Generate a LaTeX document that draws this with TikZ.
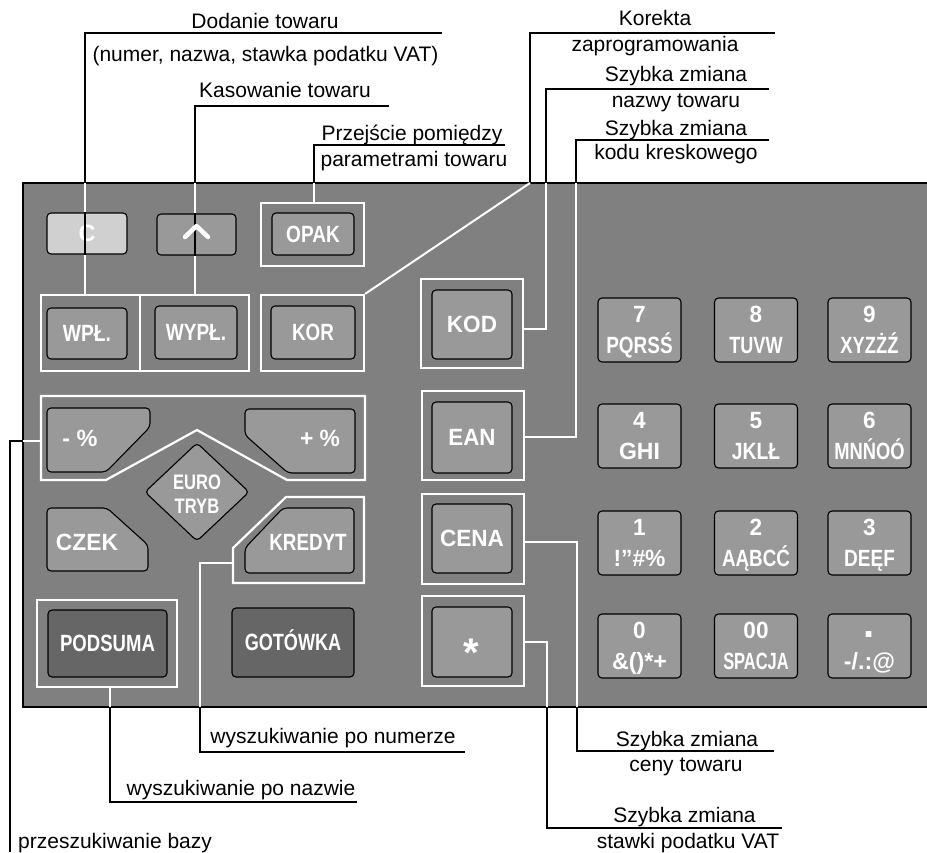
\documentclass[tikz,border=0pt]{standalone}
\usepackage{fontspec}
\usepackage{graphicx}
\setmainfont{Liberation Sans}
\definecolor{panel}{HTML}{808080}
\definecolor{keyg}{HTML}{999999}
\definecolor{keyl}{HTML}{D0D0D0}
\definecolor{keyd}{HTML}{666666}
\newcommand\sx[2]{\scalebox{#1}[1]{#2}}
\newcommand\numkey[6]{%
  \node[key, minimum width=83pt, minimum height=64pt] (#1) at (#2,#3+32) {};
  \node[ktxt, anchor=base] (#1a) at (#2,#3+24) {\sx{0.96}{#4}};
  \node[ktxt, anchor=base] (#1b) at (#2,#3+55) {\sx{#6}{#5}};}
\begin{document}
\begin{tikzpicture}[x=1pt,y=-1pt,
  lbl/.style={font=\fontsize{21}{24}\selectfont, inner sep=0pt},
  key/.style={draw=black, line width=1.1pt, fill=keyg, rounded corners=4pt, inner sep=0pt, text=white, font=\fontsize{23.5}{24}\selectfont\bfseries, text height=16.8pt, text depth=0pt},
  ktxt/.style={text=white, font=\fontsize{23.5}{24}\selectfont\bfseries, inner sep=0pt},
  frm/.style={draw=white, line width=2.2pt, inner sep=0pt},
  bl/.style={draw=black, line width=2pt},
  wl/.style={draw=white, line width=2pt},
]
\useasboundingbox (0,0) rectangle (927,852);
\path[draw=black, line width=1.5pt, fill=panel] (23,183) rectangle (940,707);

% coordinates of leaders
\coordinate (dA) at (85,33); \coordinate (dB) at (442,33); \coordinate (dP) at (85,183);
\coordinate (kA) at (195,106); \coordinate (kB) at (389,106); \coordinate (kP) at (195,183);
\coordinate (pA) at (314,145); \coordinate (pB) at (505,145); \coordinate (pP) at (314,183);
\coordinate (koA) at (530,33); \coordinate (koB) at (775,33); \coordinate (koP) at (530,183);
\coordinate (nA) at (546,89); \coordinate (nB) at (769,89); \coordinate (nP) at (546,183); \coordinate (nQ) at (546,329);
\coordinate (eA) at (576,140); \coordinate (eB) at (769,140); \coordinate (eP) at (576,183); \coordinate (eQ) at (576,437);
\coordinate (pctL) at (41,441); \coordinate (bQ) at (23,441); \coordinate (bR) at (10,441); \coordinate (bS) at (10,852);
\coordinate (zP) at (110,707); \coordinate (zA) at (110,802); \coordinate (zB) at (357,802);
\coordinate (uK) at (233,563); \coordinate (uC) at (200,563); \coordinate (uP) at (200,707); \coordinate (uA) at (200,752); \coordinate (uB) at (465,752);
\coordinate (cC) at (577,542); \coordinate (cP) at (577,707); \coordinate (cA) at (577,751); \coordinate (cB) at (774,751);
\coordinate (sC) at (547,642); \coordinate (sP) at (547,707); \coordinate (sA) at (547,828); \coordinate (sB) at (782,828);

% frames
\node[frm, minimum width=103pt, minimum height=63pt] (opakf) at (312.5,234.5) {};
\node[frm, minimum width=208pt, minimum height=76pt] (wplf) at (145,333) {};
\coordinate (wd1) at (140,295); \coordinate (wd2) at (140,371);
\draw[frm] (wd1) -- (wd2);
\node[frm, minimum width=103pt, minimum height=76pt] (korf) at (312.5,333) {};
\node[frm, minimum width=102pt, minimum height=89pt] (kodf) at (472,323.5) {};
\node[frm, minimum width=102pt, minimum height=89pt] (eanf) at (473,435.5) {};
\node[frm, minimum width=102pt, minimum height=90pt] (cenaf) at (473,539) {};
\node[frm, minimum width=102pt, minimum height=90pt] (starf) at (473,641) {};
\node[frm, minimum width=140pt, minimum height=87pt] (podsf) at (107,643.5) {};
\draw[frm] (41,396) -- (365,396) -- (365,480) -- (287,480) -- (197,430) -- (106,480) -- (41,480) -- cycle;
\draw[frm] (286,497) -- (364,497) -- (364,583) -- (233,583) -- (233,548) -- cycle;

% leaders
\draw[bl] (dB) -- (dA) -- (dP);  \draw[wl] (dP) -- (dP |- wplf.north);
\draw[bl] (kB) -- (kA) -- (kP);  \draw[wl] (kP) -- (kP |- wplf.north);
\draw[bl] (pB) -- (pA) -- (pP);  \draw[wl] (pP) -- (pP |- opakf.north);
\draw[bl] (koB) -- (koA) -- (koP); \draw[wl] (koP) -- (korf.north east);
\draw[bl] (nB) -- (nA) -- (nP);  \draw[wl] (nP) -- (nQ) -- (nQ -| kodf.east);
\draw[bl] (eB) -- (eA) -- (eP);  \draw[wl] (eP) -- (eQ) -- (eQ -| eanf.east);
\draw[wl] (pctL) -- (bQ); \draw[bl] (bQ) -- (bR) -- (bS);
\draw[wl] (podsf.south -| zP) -- (zP); \draw[bl] (zP) -- (zA) -- (zB);
\draw[wl] (uK) -- (uC) -- (uP); \draw[bl] (uP) -- (uA) -- (uB);
\draw[wl] (cenaf.east |- cC) -- (cC) -- (cP); \draw[bl] (cP) -- (cA) -- (cB);
\draw[wl] (starf.east |- sC) -- (sC) -- (sP); \draw[bl] (sP) -- (sA) -- (sB);

% keys
\node[key, fill=keyl, minimum width=80pt, minimum height=41pt] (kc) at (87,233.5) {C};
\node[key, minimum width=79pt, minimum height=41pt] (kup) at (196.5,234.5) {};
\draw[bl] (dP |- kc.north) -- (dP |- kc.south);
\draw[bl] (kP |- kup.north) -- (kP |- kup.south);
\draw[white, line width=4.5pt, line cap=round, line join=round] (185,237) -- (196.5,226) -- (208,237);
\node[key, minimum width=82pt, minimum height=42pt] (kopak) at (313,234) {\sx{0.81}{OPAK}};
\node[key, minimum width=80pt, minimum height=51pt] (kwpl) at (87,333.5) {\sx{0.82}{WPŁ.}};
\node[key, minimum width=82pt, minimum height=53pt] (kwypl) at (196,332.5) {\sx{0.81}{WYPŁ.}};
\node[key, minimum width=84pt, minimum height=53pt] (kkor) at (313,332.5) {\sx{0.8}{KOR}};
\node[key, minimum width=80pt, minimum height=69pt] (kkod) at (472,324.5) {\sx{0.96}{KOD}};
\node[key, minimum width=80pt, minimum height=71pt] (kean) at (472,437.5) {\sx{0.95}{EAN}};
\node[key, minimum width=80pt, minimum height=69pt] (kcena) at (472,538.5) {\sx{0.96}{CENA}};
\node[key, minimum width=80pt, minimum height=70pt] (kstar) at (472,642) {};
\node[ktxt, font=\fontsize{40}{40}\selectfont\bfseries, anchor=base] (kstart) at (471,666) {*};
\node[key, fill=keyd, minimum width=119pt, minimum height=67pt] (kpods) at (107.5,643.5) {\sx{0.79}{PODSUMA}};
\node[key, fill=keyd, minimum width=122pt, minimum height=69pt] (kgot) at (293,642.5) {\sx{0.77}{GOTÓWKA}};

\path[key] (47,408) -- (150,408) -- (150,427) -- (106,472) -- (47,472) -- cycle;
\path[key] (245,409) -- (355,409) -- (355,473) -- (288,473) -- (245,435) -- cycle;
\path[key] (197,443) -- (249,492) -- (197,541) -- (145,492) -- cycle;
\path[key] (47,508) -- (107,508) -- (148,545) -- (148,571) -- (47,571) -- cycle;
\path[key] (283,508) -- (354,508) -- (354,573) -- (245,573) -- (245,548) -- cycle;
\node[ktxt, anchor=base] (tmin) at (80,446) {- \%};
\node[ktxt, anchor=base] (tplus) at (320,446) {\sx{0.97}{+ \%}};
\node[ktxt, align=center, font=\fontsize{21}{24}\selectfont\bfseries] (teuro) at (197,494.5) {\sx{0.79}{EURO}\\\sx{0.79}{TRYB}};
\node[ktxt, anchor=base] (tczek) at (87,550) {\sx{0.97}{CZEK}};
\node[ktxt, anchor=base] (tkred) at (308,550) {\sx{0.8}{KREDYT}};

\numkey{n7}{639.5}{298}{7}{PQRSŚ}{0.806}
\numkey{n8}{756}{298}{8}{TUVW}{0.77}
\numkey{n9}{869.5}{298}{9}{XYZŻŹ}{0.78}
\numkey{n4}{639.5}{404}{4}{GHI}{0.98}
\numkey{n5}{756}{404}{5}{JKLŁ}{0.82}
\numkey{n6}{869.5}{404}{6}{MNŃOÓ}{0.78}
\numkey{n1}{639.5}{511}{1}{!”\#\%}{0.97}
\numkey{n2}{756}{511}{2}{AĄBCĆ}{0.8}
\numkey{n3}{869.5}{511}{3}{DEĘF}{0.81}
\numkey{n0}{639.5}{614}{0}{\&()*+}{0.99}
\numkey{nzz}{756}{614}{00}{SPACJA}{0.7}
\node[key, minimum width=83pt, minimum height=64pt] (ndot) at (869.5,646) {};
\node[ktxt, font=\fontsize{40}{40}\selectfont\bfseries, anchor=base] (ndota) at (869.5,637.5) {.};
\node[ktxt, anchor=base] (ndotb) at (869.5,669) {\sx{0.99}{-/.:@}};

% labels
\node[lbl, anchor=base] (l1a) at (265,28) {Dodanie towaru};
\node[lbl, anchor=base] (l1b) at (265.5,61) {(numer, nazwa, stawka podatku VAT)};
\node[lbl, anchor=base] (l2) at (285,97) {Kasowanie towaru};
\node[lbl, anchor=base] (l3a) at (412,140) {Przejście pomiędzy};
\node[lbl, anchor=base] (l3b) at (414,166) {parametrami towaru};
\node[lbl, anchor=base] (l4a) at (655,25) {Korekta};
\node[lbl, anchor=base] (l4b) at (655,51) {zaprogramowania};
\node[lbl, anchor=base] (l5a) at (676,81) {Szybka zmiana};
\node[lbl, anchor=base] (l5b) at (676,107) {nazwy towaru};
\node[lbl, anchor=base] (l6a) at (676,135) {Szybka zmiana};
\node[lbl, anchor=base] (l6b) at (676,159) {kodu kreskowego};
\node[lbl, anchor=base] (l7) at (333,743) {wyszukiwanie po numerze};
\node[lbl, anchor=base] (l8) at (241,795) {wyszukiwanie po nazwie};
\node[lbl, anchor=base] (l9a) at (687,746) {Szybka zmiana};
\node[lbl, anchor=base] (l9b) at (686,771) {ceny towaru};
\node[lbl, anchor=base] (l10a) at (684.5,822) {Szybka zmiana};
\node[lbl, anchor=base] (l10b) at (688,848) {stawki podatku VAT};
\node[lbl, anchor=base west] (l11) at (18,848) {przeszukiwanie bazy};
\end{tikzpicture}
\end{document}
